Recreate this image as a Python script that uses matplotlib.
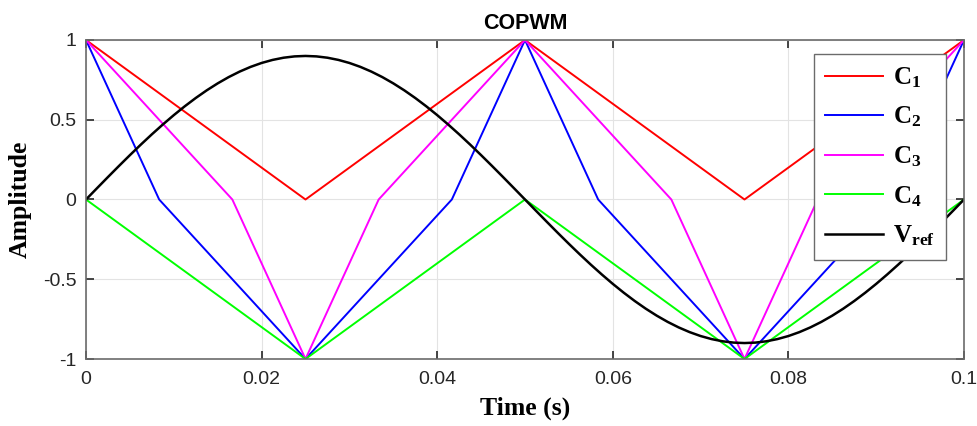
import matplotlib
matplotlib.use("Agg")
import matplotlib.pyplot as plt

# Carrier breakpoints (time in s, amplitude)
c1_t = [0.0, 0.025, 0.05, 0.075, 0.1]
c1_v = [1, 0, 1, 0, 1]

c2_t = [0.0, 0.008333, 0.025, 0.041667, 0.05, 0.058333, 0.075, 0.091667, 0.1]
c2_v = [1, 0, -1, 0, 1, 0, -1, 0, 1]

c3_t = [0.0, 0.016667, 0.025, 0.033333, 0.05, 0.066667, 0.075, 0.083333, 0.1]
c3_v = [1, 0, -1, 0, 1, 0, -1, 0, 1]

c4_t = [0.0, 0.025, 0.05, 0.075, 0.1]
c4_v = [0, -1, 0, -1, 0]

# Reference waveform sampled every 1.25 ms
vref_t = [i * 0.00125 for i in range(81)]
_quarter = [0.0000, 0.0706, 0.1408, 0.2101, 0.2781, 0.3444, 0.4086, 0.4702, 0.5290,
            0.5845, 0.6364, 0.6844, 0.7281, 0.7674, 0.8019, 0.8315, 0.8560, 0.8751,
            0.8889, 0.8972, 0.9000]
_half = _quarter + _quarter[-2::-1]
vref_v = _half + [-v for v in _half[1:]]

xticks = [0, 0.02, 0.04, 0.06, 0.08, 0.1]
xtick_labels = ["0", "0.02", "0.04", "0.06", "0.08", "0.1"]
yticks = [-1, -0.5, 0, 0.5, 1]
ytick_labels = ["-1", "-0.5", "0", "0.5", "1"]

plt.rcParams["mathtext.fontset"] = "custom"
plt.rcParams["mathtext.bf"] = "Liberation Serif:bold"
plt.rcParams["mathtext.rm"] = "Liberation Serif:bold"

fig = plt.figure(figsize=(9.77, 4.26), dpi=100)
ax = fig.add_axes([86 / 977, 1 - 359 / 426, (964 - 86) / 977, (359 - 40) / 426])

ax.plot(c1_t, c1_v, color="#ff0000", lw=1.4, label=r"$\mathbf{C_1}$")
ax.plot(c2_t, c2_v, color="#0000ff", lw=1.4, label=r"$\mathbf{C_2}$")
ax.plot(c3_t, c3_v, color="#ff00ff", lw=1.4, label=r"$\mathbf{C_3}$")
ax.plot(c4_t, c4_v, color="#00ff00", lw=1.4, label=r"$\mathbf{C_4}$")
ax.plot(vref_t, vref_v, color="black", lw=1.8, label=r"$\mathbf{V_{ref}}$")

ax.set_xlim(0, 0.1)
ax.set_ylim(-1, 1)
ax.set_xticks(xticks)
ax.set_xticklabels(xtick_labels, family="Liberation Sans")
ax.set_yticks(yticks)
ax.set_yticklabels(ytick_labels, family="Liberation Sans")
ax.grid(True, color="#e3e3e3", lw=0.8)
ax.set_axisbelow(True)

ax.tick_params(direction="in", top=True, right=True, length=6, width=1.2,
               color="#262626", labelsize=14, labelcolor="#262626")
ax.tick_params(axis="x", pad=9)
ax.tick_params(axis="y", pad=7)
for s in ax.spines.values():
    s.set_color("#6b6b6b")
    s.set_linewidth(1.2)

ax.set_title("COPWM", family="Liberation Sans", fontsize=15.5, fontweight="bold", pad=8)
ax.set_xlabel("Time (s)", family="Liberation Serif", fontweight="bold",
              fontsize=18.5, labelpad=6)
ax.set_ylabel("Amplitude", family="Liberation Serif", fontweight="bold",
              fontsize=18.5, labelpad=8)

leg = ax.legend(loc="upper right", bbox_to_anchor=(0.9795, 0.956), fontsize=18,
                frameon=True, fancybox=False, handlelength=2.3, handletextpad=0.4,
                labelspacing=0.6, borderpad=0.45, borderaxespad=0.0)
leg.get_frame().set_edgecolor("#6b6b6b")
leg.get_frame().set_linewidth(1.0)
leg.get_frame().set_alpha(1.0)

fig.savefig("out.png", dpi=100)
